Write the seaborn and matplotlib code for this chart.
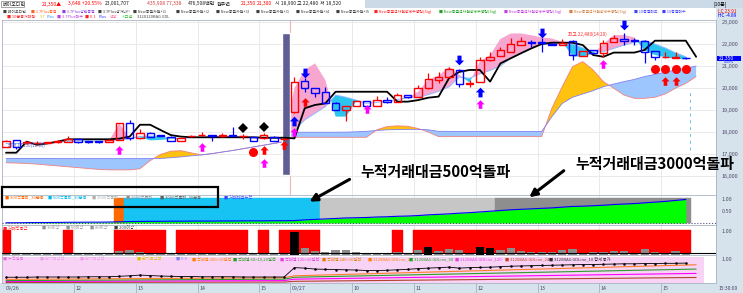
import numpy as np
import pandas as pd
import matplotlib
matplotlib.use("Agg")
import matplotlib.pyplot as plt
from matplotlib.path import Path
from matplotlib.patches import Rectangle, FancyArrowPatch
import seaborn as sns

# ---------------- data ----------------
day1_times = pd.date_range("2023-09-26 10:50", "2023-09-26 15:20", freq="10min")
day2_times = pd.date_range("2023-09-27 09:00", "2023-09-27 15:20", freq="10min")

open1 = [17330,17640,17490,17500,17520,17530,17560,17680,17590,17570,17560,17640,18420,17710,17970,17860,17790,17590,17800,17850,17860,17840,17860,17800,17760,17710,17790,17660]
high1 = [17620,17650,17580,17610,17560,17630,17820,17700,17600,17580,17660,18400,18550,18120,17990,17870,17800,17720,17850,18020,17870,17970,18240,17910,17780,17940,17800,17720]
low1 = [17320,17250,17460,17440,17510,17520,17550,17520,17520,17500,17550,17630,17640,17700,17780,17810,17580,17580,17790,17840,17610,17760,17830,17670,17600,17700,17600,17650]
close1 = [17600,17300,17560,17520,17540,17610,17700,17530,17530,17560,17640,18390,17710,17970,17790,17820,17590,17710,17820,17870,17840,17860,17840,17820,17610,17850,17610,17700]

open2 = [18920,20320,19990,19830,19330,19000,19180,19410,19180,19450,19380,19680,19600,19990,20360,20490,20820,20180,20290,21260,21450,21650,21950,22090,22070,22000,21950,22150,21450,21730,21600,22100,22210,22170,22150,21680,21390,21380,21380]
high2 = [20480,20440,20000,20060,19350,19200,19430,19420,19630,19600,19760,19700,20140,20700,20740,20970,20850,20360,21390,21650,21880,22260,22300,22180,22260,22030,22210,22180,21700,21740,22180,22410,22480,22260,22160,21700,21650,21650,21400]
low2 = [18880,19830,19600,19320,18980,18520,19170,19170,19170,19300,19370,19560,19590,19970,20210,20470,20060,20060,20270,21250,21440,21640,21940,21880,21650,21950,21940,21270,21440,21560,21420,22090,21950,21950,21120,21270,21380,21370,21340]
close2 = [20290,19990,19790,19330,19000,19180,19410,19180,19450,19370,19680,19580,19990,20390,20520,20850,20180,20240,21270,21420,21730,22000,22150,22060,22030,21970,22060,21500,21680,21580,22060,22260,22150,22150,21650,21420,21420,21400,21350]

# band indicator (pink when fast above slow, cyan when below)
fast1 = [17480,17470,17490,17500,17510,17540,17580,17590,17590,17580,17600,18390,17700,17760,17620,17640,17680,17700,17740,17760,17770,17780,17780,17770,17740,17740,17720,17700]
slow1 = [17480,17470,17490,17500,17510,17540,17580,17590,17590,17580,17600,17640,17700,17800,17820,17800,17720,17700,17740,17760,17770,17780,17780,17770,17740,17740,17720,17700]
fast2 = [20000,20820,21120,20360,18700,18700,19400,19300,19350,19400,19480,19550,19830,20380,20560,20950,20600,20250,21200,21500,22230,22480,22480,22400,22300,22250,22100,21440,21420,21570,22000,22400,22410,22300,21700,21500,21400,21330,21300]
slow2 = [18060,18550,18850,19150,19680,19580,19450,19300,19350,19400,19480,19550,19570,19700,19850,20050,20500,20440,20640,20800,21000,21350,21580,21800,21990,22000,22000,22000,21820,21650,21650,21800,21950,22080,22150,22000,21820,21600,21420]

# cloud spans (one point beyond the last candle)
spanA1 = [16600,16590,16570,16540,16500,16460,16420,16380,16340,16300,16280,16280,16280,16330,16700,16980,17130,17150,17050,16960,17020,17090,17160,17240,17320,17400,17480,17560]
spanB1 = [16800,16800,16800,16800,16800,16790,16790,16790,16790,16790,16790,16790,16790,16790,16790,16800,16830,16870,16920,16960,17020,17090,17160,17240,17320,17400,17480,17560]
spanA2 = [17760,17760,17760,17760,17760,17760,17760,17760,18100,18250,18280,18260,18160,18000,17790,17790,17790,17790,17790,17790,17790,17790,17790,17790,17790,19080,20060,20970,21200,20820,20290,19990,19680,19530,19530,19580,19730,19990,20210,20520]
spanB2 = [17990,17990,17990,17990,17990,17995,18010,18030,18070,18100,18110,18120,18120,18100,18030,18030,18020,18020,18020,18020,18020,18020,18020,18020,18020,18700,19300,19580,19730,19880,20060,20180,20290,20390,20520,20620,20710,20820,20890,21000]

# black trailing line (one point beyond the last candle)
trail1 = [17060,17060,17560,17420,17480,17560,17670,17670,17670,17670,17670,17700,17790,18330,18330,18090,17860,17790,17760,17760,17760,17760,17760,17760,17760,17740,17740,17740]
trail2 = [17710,19080,19230,19300,19830,19830,19830,19830,19830,19830,19380,19380,19450,19560,19610,20440,20730,20820,20820,20290,21120,21350,21580,21800,22000,22060,22060,22060,21950,21500,21420,21610,21610,21610,21730,22150,22150,22150,22150,21420]

# signals (candle index, price)
sell_idx, sell_px = [29, 44, 52, 60], [20700, 21270, 22510, 22860]
bluebuy_idx, bluebuy_px = [28, 46], [18480, 19830]
redbuy_idx, redbuy_px = [25, 27, 29, 64, 65], [17170, 17400, 19360, 20330, 20330]
magenta_idx, magenta_px = [11, 19, 25, 28, 35, 46, 58], [17180, 17300, 16600, 18000, 19050, 19270, 21090]
circle_idx, circle_px = [24, 63, 64, 65, 66], [17080, 20850, 20850, 20850, 20850]
diamond_idx, diamond_px = [23, 25], [18170, 18240]
vi_range = [16050, 22500]

# cumulative trading value (normalised)
cum1 = [0.01,0.01,0.015,0.02,0.02,0.025,0.03,0.03,0.035,0.035,0.04,0.05,0.06,0.065,0.07,0.07,0.075,0.075,0.08,0.08,0.08,0.085,0.085,0.09,0.09,0.09,0.095,0.095]
cum2 = [0.10,0.13,0.15,0.17,0.19,0.21,0.22,0.23,0.25,0.26,0.28,0.29,0.31,0.34,0.36,0.38,0.41,0.43,0.46,0.49,0.52,0.55,0.57,0.59,0.61,0.63,0.66,0.69,0.70,0.72,0.74,0.77,0.79,0.81,0.84,0.87,0.90,0.94,0.98]
stage1 = [0,0,0,0,0,0,0,0,0,0,0,1,2,2,2,2,2,2,2,2,2,2,2,2,2,2,2,2]
stage2 = [2,2,2,3,3,3,3,3,3,3,3,3,3,3,3,3,3,3,3,3,4,4,4,4,4,4,4,4,4,4,4,4,4,4,4,4,4,4,4]

# volume panel
sig1 = [1,0,0,0,0,0,1,0,0,0,0,1,1,1,1,1,0,1,1,1,1,1,1,1,0,1,0,1]
sig2 = [1,1,1,0,0,0,0,0,0,0,1,0,1,1,1,1,1,1,1,1,1,1,1,1,1,1,1,1,1,1,1,1,1,1,1,1,1,1,1]
vol1 = [0.10,0.03,0.03,0.03,0.03,0.04,0.05,0.03,0.03,0.03,0.04,0.18,0.21,0.12,0.06,0.04,0.06,0.04,0.03,0.05,0.04,0.04,0.10,0.05,0.05,0.06,0.05,0.06]
vol2 = [0.97,0.30,0.17,0.14,0.21,0.20,0.11,0.08,0.10,0.08,0.11,0.08,0.21,0.32,0.18,0.26,0.21,0.10,0.32,0.31,0.21,0.28,0.18,0.125,0.125,0.14,0.21,0.26,0.10,0.11,0.125,0.17,0.17,0.10,0.24,0.14,0.10,0.17,0.10]
vol_spike_idx = [28, 41, 46, 47]

# bottom panel lines
gd1 = [0.24,0.24,0.24,0.25,0.25,0.25,0.25,0.25,0.26,0.26,0.26,0.28,0.30,0.33,0.31,0.29,0.28,0.27,0.27,0.26,0.26,0.26,0.26,0.25,0.25,0.25,0.25,0.25]
gd2 = [0.64,0.62,0.58,0.57,0.56,0.55,0.54,0.52,0.52,0.53,0.55,0.57,0.60,0.62,0.64,0.66,0.62,0.64,0.65,0.66,0.68,0.70,0.71,0.72,0.73,0.74,0.75,0.76,0.77,0.77,0.78,0.79,0.80,0.80,0.81,0.81,0.82,0.82,0.83]
ma_idx = [0, 27, 28, 67]
ma_orange = [0.15, 0.22, 0.30, 0.76]
ma_green = [0.10, 0.16, 0.24, 0.58]
ma_magenta = [0.06, 0.10, 0.16, 0.40]
ma_brown = [0.02, 0.04, 0.07, 0.23]

price_ticks = [16000, 17000, 18000, 19000, 20000, 21000, 22000, 23000]

# ---------------- derived ----------------
times = day1_times.append(day2_times)
n = len(times)
x = np.arange(n)
xe = np.arange(n + 1)
o = np.array(open1 + open2, float); h = np.array(high1 + high2, float)
l = np.array(low1 + low2, float); c = np.array(close1 + close2, float)
fast = np.array(fast1 + fast2, float); slow = np.array(slow1 + slow2, float)
spanA = np.array(spanA1 + spanA2, float); spanB = np.array(spanB1 + spanB2, float)
trail = np.array(trail1 + trail2, float)
cum = np.array(cum1 + cum2); stage = np.array(stage1 + stage2)
sig = np.array(sig1 + sig2); vol = np.array(vol1 + vol2)
gd = np.array(gd1 + gd2)

RED, BLUE = "#FF0000", "#0000FF"
W, H = 743, 293

sns.set_theme(style="white")
plt.rcParams["font.family"] = ["Noto Sans CJK KR", "DejaVu Sans"]
plt.rcParams["axes.unicode_minus"] = False

fig = plt.figure(figsize=(W / 100, H / 100), dpi=100)
fig.patch.set_facecolor("white")

def add_ax(x0, y0, x1, y1):
    return fig.add_axes([x0 / W, 1 - y1 / H, (x1 - x0) / W, (y1 - y0) / H])

def ftext(px, py, s, **kw):
    fig.text(px / W, 1 - py / H, s, va="center", ha=kw.pop("ha", "left"), **kw)

def frect(x0, y0, x1, y1, **kw):
    fig.add_artist(Rectangle((x0 / W, 1 - y1 / H), (x1 - x0) / W, (y1 - y0) / H,
                             transform=fig.transFigure, **kw))

XLIM = (-0.39, 68.93)
first_day2 = len(day1_times)
tick_idx = [i for i in range(n) if i == 0 or i == first_day2 or
            (times[i].minute == 0 and min(abs(i - 0), abs(i - first_day2)) > 2)]
tick_lab = [times[i].strftime("%m/%d") if i in (0, first_day2) else str(times[i].hour) for i in tick_idx]
grid_x = [i - 0.4 for i in tick_idx if i not in (0, first_day2)]

# background strips
frect(716, 8, 743, 283, facecolor="#D6E2EC", edgecolor="none", zorder=-1)
frect(0, 283, 743, 293, facecolor="#D6E2EC", edgecolor="none", zorder=-1)
frect(365, 0, 743, 8, facecolor="#CCDAE8", edgecolor="none", zorder=-1)

# ---------------- main price panel ----------------
ax = add_ax(2, 20, 716, 195)
ax.set_xlim(*XLIM)
ax.set_ylim(15137, 23091)
for p in price_ticks:
    ax.axhline(p, color="#E6E6E6", lw=0.6, zorder=0)
for gx in grid_x:
    ax.axvline(gx, color="#E6E6E6", lw=0.6, zorder=0)
ax.axvline(first_day2 - 0.43, color="#F3B6B6", lw=0.8, zorder=0)

ax.fill_between(x, fast, slow, where=fast >= slow, interpolate=True, color="#F7A6CF", lw=0, zorder=1)
ax.fill_between(x, fast, slow, where=fast < slow, interpolate=True, color="#2CC5EE", lw=0, zorder=1)
sns.lineplot(x=x, y=slow, ax=ax, color="#8FB8FF", linewidth=0.7, estimator=None, sort=False, zorder=2)

ax.fill_between(xe, spanA, spanB, where=spanA >= spanB, interpolate=True, color="#FFC20E", lw=0, zorder=1)
ax.fill_between(xe, spanA, spanB, where=spanA < spanB, interpolate=True, color="#9DC6FF", lw=0, zorder=1)
sns.lineplot(x=xe, y=spanA, ax=ax, color="#F08080", linewidth=0.6, estimator=None, sort=False, zorder=2)
sns.lineplot(x=xe, y=spanB, ax=ax, color="#8080F0", linewidth=0.6, estimator=None, sort=False, zorder=2)

ax.bar(first_day2 - 0.8, vi_range[1] - vi_range[0], bottom=vi_range[0], width=0.78,
       color="#5E5E94", zorder=3)
ax.plot([66.4, 66.4], [17180, 19820], color="#5CC8F0", lw=0.7, ls=(0, (3, 4)), zorder=2)

sns.lineplot(x=xe, y=trail, ax=ax, color="black", linewidth=1.3, estimator=None, sort=False, zorder=4)

up = c >= o
cols = np.where(up, RED, BLUE)
bhi = np.maximum(o, c); blo = np.minimum(o, c)
ax.vlines(x, bhi, h, colors=cols, lw=0.9, zorder=5)
ax.vlines(x, l, blo, colors=cols, lw=0.9, zorder=5)
ax.bar(x, np.maximum(bhi - blo, 6), bottom=blo, width=0.72, facecolor="none",
       edgecolor=cols, linewidth=1.0, zorder=5)

def arrow_path(upward=True):
    v = [(0, 1), (0.95, 0.02), (0.42, 0.02), (0.42, -1), (-0.42, -1), (-0.42, 0.02), (-0.95, 0.02), (0, 1)]
    if not upward:
        v = [(a, -b) for a, b in v]
    return Path(v, [Path.MOVETO] + [Path.LINETO] * (len(v) - 2) + [Path.CLOSEPOLY])

UP, DOWN = arrow_path(True), arrow_path(False)
mk = dict(ls="none", mew=0, zorder=6)
ax.plot(sell_idx, sell_px, marker=DOWN, ms=7, color=BLUE, **mk)
ax.plot(bluebuy_idx, bluebuy_px, marker=UP, ms=7, color=BLUE, **mk)
ax.plot(redbuy_idx, redbuy_px, marker=UP, ms=6.2, color=RED, **mk)
ax.plot(magenta_idx, magenta_px, marker=UP, ms=6.2, color="#FF00FF", **mk)
ax.plot(circle_idx, circle_px, marker="o", ms=6.5, color=RED, **mk)
ax.plot(diamond_idx, diamond_px, marker="D", ms=5, color="black", **mk)

hi_i = int(np.argmax(h))
ax.text(hi_i - 1.7, h[hi_i] - 60, f"최고 {int(h[hi_i]):,}({times[hi_i].strftime('%H:%M')})",
        fontsize=3.4, color="#FF3030", ha="right", va="center", zorder=7)
lo_i = int(np.argmin(l[:first_day2]))
ax.text(0.2, 17400, f"최저 {int(l[lo_i]):,}({times[lo_i].strftime('%H:%M')})",
        fontsize=3.2, color="#6060CC", ha="left", va="center", zorder=7)

ax.yaxis.tick_right()
ax.set_yticks(price_ticks)
ax.set_yticklabels([f"{p:,}" for p in price_ticks])
ax.tick_params(axis="y", length=0, pad=4, labelsize=4, labelcolor="#50506A")
ax.set_xticks([])
for s in ax.spines.values():
    s.set_color("#AAB4C0"); s.set_linewidth(0.6)

# ---------------- cumulative trading value panel ----------------
ax2 = add_ax(2, 195, 716, 225)
ax2.set_xlim(*XLIM); ax2.set_ylim(-2 / 24, 28 / 24)
stage_col = {1: "#FF6A00", 2: "#17C3F2", 3: "#C6C6C6", 4: "#8E8E8E"}
for gx in grid_x:
    ax2.axvline(gx, color="#E8E8E8", lw=0.6, zorder=0)
m = stage > 0
ax2.bar(x[m], 1.04, bottom=0, width=1.0, color=[stage_col[s] for s in stage[m]],
        edgecolor=[stage_col[s] for s in stage[m]], linewidth=0.3, zorder=1)
ax2.fill_between(x, 0, cum, color="#00FF00", lw=0, zorder=2)
sns.lineplot(x=x, y=cum, ax=ax2, color=BLUE, linewidth=0.8, estimator=None, sort=False, zorder=3)
ax2.axhline(0, color="#505080", lw=0.8, ls=":", zorder=3)
ax2.yaxis.tick_right()
ax2.set_yticks([0.5, 1.0]); ax2.set_yticklabels(["0.50", "1.00"])
ax2.tick_params(axis="y", length=0, pad=4, labelsize=4, labelcolor="#50506A")
ax2.set_xticks([])
for s in ax2.spines.values():
    s.set_color("#AAB4C0"); s.set_linewidth(0.6)

# ---------------- volume / signal panel ----------------
ax3 = add_ax(2, 225, 716, 255)
ax3.set_xlim(*XLIM); ax3.set_ylim(0, 30 / 24)
for gx in grid_x:
    ax3.axvline(gx, color="#E8E8E8", lw=0.6, zorder=0)
ms_ = sig == 1
ax3.bar(x[ms_], 0.97, bottom=0.07, width=1.0, color=RED, edgecolor=RED, linewidth=0.3, zorder=1)
vcol = ["black" if i in vol_spike_idx else "#8C8C8C" for i in range(n)]
ax3.bar(x, vol, width=0.8, color=vcol, linewidth=0, zorder=2)
ax3.axhline(0.07, color="black", lw=0.8, zorder=3)
ax3.yaxis.tick_right()
ax3.set_yticks([1.0]); ax3.set_yticklabels(["1.00"])
ax3.tick_params(axis="y", length=0, pad=4, labelsize=4, labelcolor="#50506A")
ax3.set_xticks([])
for s in ax3.spines.values():
    s.set_color("#AAB4C0"); s.set_linewidth(0.6)

# ---------------- bottom line panel ----------------
ax4 = add_ax(2, 255, 716, 283)
ax4.set_xlim(*XLIM); ax4.set_ylim(0, 28 / 24)
ax4.axvspan(XLIM[0], 67.8, ymin=0, ymax=26 / 28, color="#F9D3F6", lw=0, zorder=0)
for gx in grid_x:
    ax4.axvline(gx, color="#EBD8EB", lw=0.6, zorder=0)
for vals, col in [(ma_brown, "#B0432A"), (ma_magenta, "#FF00FF"), (ma_green, "#2E9B2E"), (ma_orange, "#FF7F27")]:
    sns.lineplot(x=ma_idx, y=vals, ax=ax4, color=col, linewidth=0.8, estimator=None, sort=False, zorder=2)
sns.lineplot(x=x, y=gd, ax=ax4, color="black", linewidth=0.6, marker="o", markersize=1.8,
             markeredgewidth=0, estimator=None, sort=False, zorder=3)
ax4.yaxis.tick_right()
ax4.set_yticks([1.0]); ax4.set_yticklabels(["1.00"])
ax4.tick_params(axis="y", length=0, pad=4, labelsize=4, labelcolor="#50506A")
ax4.set_xticks([])
for s in ax4.spines.values():
    s.set_color("#AAB4C0"); s.set_linewidth(0.6)
xt = ax4.get_xaxis_transform()
for i, lab in zip(tick_idx, tick_lab):
    ax4.text(i - 0.25 if i else 0.0, -0.18, lab, transform=xt, fontsize=3.8, color="#454565",
             ha="left", va="center", clip_on=False)
    if i:
        ax4.plot([i - 0.4, i - 0.4], [-0.36, 0], transform=xt, color="#9AA8B8", lw=0.5, clip_on=False)
ftext(719, 288, "15:30:00", fontsize=3.6, color="#454565")

# ---------------- header & legends ----------------
header = [("베이오디안", 3, "#202020"), ("21,350▲", 42, RED), ("3,648 +20.55%", 68, RED),
          ("23,001,707", 105, "#202020"), ("435,908 77,338", 147, "#D04040"), ("476,508백만", 188, "#202020"),
          ("원주연", 217, "#202020"), ("21,350", 241, RED), ("21,300", 257, RED),
          ("시 18,900", 275, "#202020"), ("고 22,480", 297, "#202020"), ("저 18,520", 320, "#202020")]
for s, px, col in header:
    ftext(px, 4, s, fontsize=3.6, color=col)
frect(1, 0.8, 24, 7.2, facecolor="none", edgecolor="#808080", linewidth=0.5, zorder=5)
ftext(713, 4, "[10분]", fontsize=3.6, color="black")

row2 = [("■ 베이오디안", 3, "#404040"), ("■ 3.7Plus종결", 31, "#FF6020"), ("■ 3.7Plus강한종결", 62, "#9040E0"),
        ("■ 3.7Plus상거나!!", 98, "#404040"), ("■ New종결차원시1", 133, "#404040"), ("■ New종결차원시2", 176, "#404040"),
        ("■ New종결차원시3", 216, "#404040"), ("■ New종결차원시1", 256, "#404040"), ("■ New종결차원시4", 296, "#404040"),
        ("■ New종결차원시5", 336, "#404040"), ("■ New종결전차원장세수명령(Sig)", 374, "#FF2020"),
        ("■ New종결전차원장세수명령(Sig)", 439, "#20A020"), ("■ New종결전차원장세수명령(Sig)", 504, "#C040E0"),
        ("■ New종결전차원장세수명령(Sig)", 569, "#D08040"), ("■ 10종결매도", 634, "#4040FF"), ("■ 10종결매수", 662, "#4040FF")]
for s, px, col in row2:
    ftext(px, 11.7, s, fontsize=2.8, color=col)
row3 = [("■ 10분봉거래량", 7, "#FF2020"), ("3.7", 40, "#E0C000"), ("Plus", 47, "#40A0FF"),
        ("■ 3.7Plus매수", 57, "#C040E0"), ("■ 0.1", 85, "#FF2020"), ("Plus", 99, "#4040FF"),
        ("색상", 110, "#FF60A0"), ("시그널", 122, "#40C040"), ("3120120BAG GDL", 137, "#404040")]
for s, px, col in row3:
    ftext(px, 16.5, s, fontsize=2.9, color=col)
ftext(718, 11.5, "LC 23.91", fontsize=3.4, color=RED)
ftext(718, 15.8, "HC -4.89", fontsize=3.4, color=BLUE)

frect(717, 55.5, 741, 61, facecolor=BLUE, edgecolor="none", zorder=6)
ftext(719, 58.3, "21,350", fontsize=3.6, color="white", zorder=7)
ftext(724, 62.4, "0.33%", fontsize=2.6, color=BLUE, zorder=7)

p2_items = [("■ 300억돌파_30분봉", 5, "#FF6000"), ("■ 500억돌파_30분봉", 48, "#00B8F0"), ("■ 1000억돌파", 92, "#B0B0B0"),
            ("■ 2000억돌파", 126, "#909090"), ("■ 3000억돌파_30분봉", 160, "#606060"), ("■ 거래대금누적", 224, "#4040FF")]
for s, px, col in p2_items:
    ftext(px, 197.5, s, fontsize=3.0, color=col, zorder=9)
frect(2, 187, 218, 207, facecolor="none", edgecolor="black", linewidth=1.6, zorder=10)

p3_items = [("■ 거래량증감", 3, "#FF2020"), ("■ 30이상", 42, "#909090"), ("■ 50이상", 66, "#909090"),
            ("■ 80이상", 90, "#909090"), ("■ 200이상", 114, "#404040")]
for s, px, col in p3_items:
    ftext(px, 228, s, fontsize=3.0, color=col, zorder=9)

p4_items = [("■ 누적일봉", 3, "#E070E0"), ("■ 단기중심선", 40, "#E8A0E8"), ("■ 단기중심선", 80, "#E8A0E8"),
            ("■ 단기중심선", 137, "#E0C000"), ("■ 0.0", 176, "#8080F0"), ("■ 역배열 200>10일선", 192, "#FF8000"),
            ("■ 역배열 60>10,20일선", 233, "#20A020"), ("■ 역배열 120>10일선", 280, "#E040E0"),
            ("■ 역배열 240>10일선", 322, "#E08000"), ("■ 3120BAG GDLine_20", 368, "#FF8000"),
            ("■ 3120BAG GDLine_60", 409, "#20A020"), ("■ 3120BAG GDLine_120", 455, "#E040E0"),
            ("■ 3120BAG GDLine_240", 505, "#C04020"), ("■ 3120BAG GDLine_10 합계 종가", 549, "#303030")]
for s, px, col in p4_items:
    ftext(px, 259, s, fontsize=3.0, color=col, zorder=9)

# ---------------- annotations ----------------
ftext(360, 172, "누적거래대금500억돌파", fontsize=10.8, fontweight="bold", color="black", zorder=11)
ftext(575, 164, "누적거래대금3000억돌파", fontsize=10.8, fontweight="bold", color="black", zorder=11)
for (x0, y0), (x1, y1) in [((352, 178), (307, 203)), ((566, 169), (527, 199))]:
    fig.add_artist(FancyArrowPatch((x0 / W, 1 - y0 / H), (x1 / W, 1 - y1 / H), transform=fig.transFigure,
                                   arrowstyle="-|>", mutation_scale=11, lw=2.2, color="black", zorder=11))

fig.savefig("out.png", dpi=100)
